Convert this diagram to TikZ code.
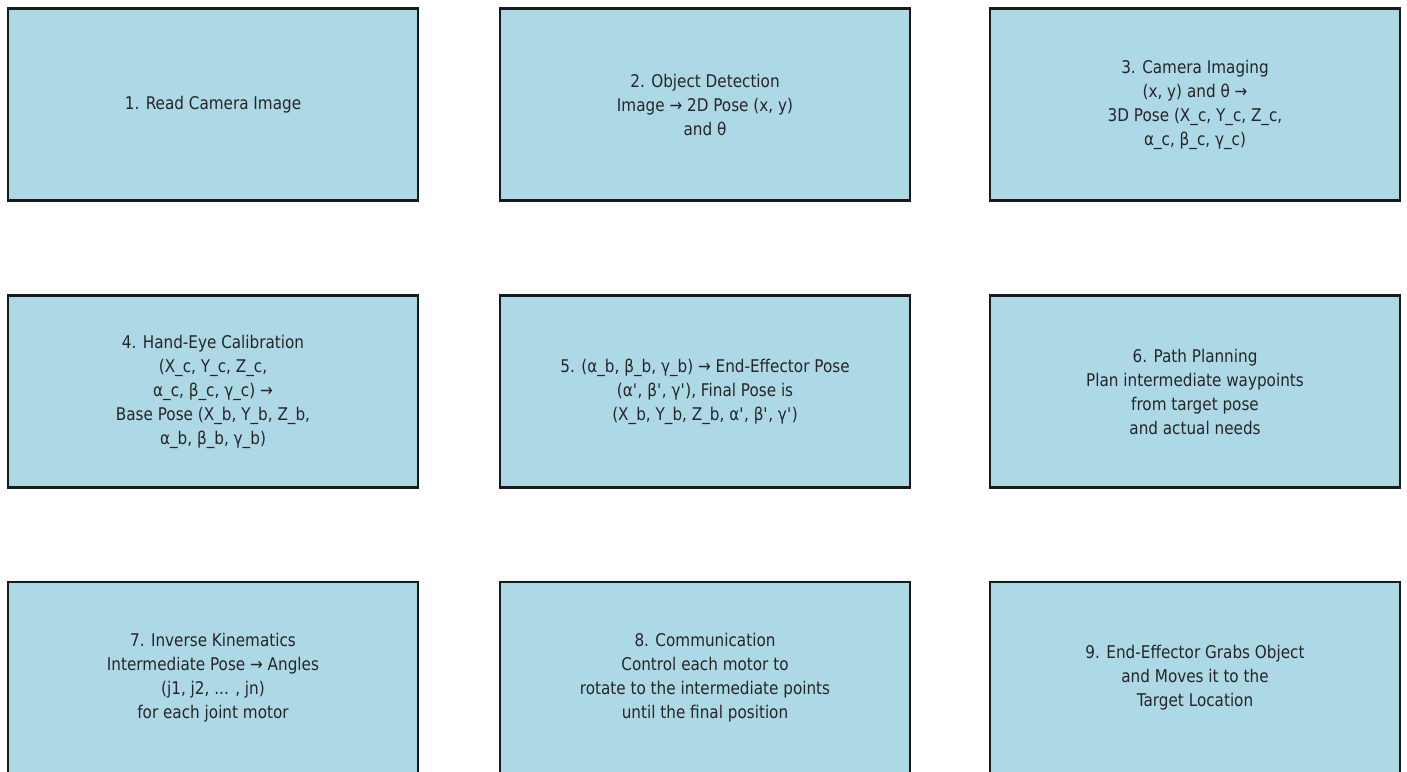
\documentclass[tikz,border=0pt]{standalone}
\usepackage{fontspec}
\setmainfont{DejaVu Sans}[FakeStretch=0.87]
\newcommand{\q}{\textquotesingle}
\begin{document}
\begin{tikzpicture}[x=0.5pt,y=-0.5pt,
  stepbox/.style={draw=black!90, line width=1.1pt, fill={rgb,255:red,173;green,216;blue,230},
    minimum width=205pt, minimum height=96pt, inner sep=0pt, outer sep=0pt,
    align=center, font=\fontsize{8.75pt}{12pt}\selectfont, text=black!85}]
\useasboundingbox (0,0) rectangle (1407,771);
\node[stepbox] (s1) at (213,104.5) {1. Read Camera Image};
\node[stepbox] (s2) at (705,104.5) {2. Object Detection\\Image → 2D Pose (x, y)\\and θ};
\node[stepbox] (s3) at (1195,104.5) {3. Camera Imaging\\(x, y) and θ →\\3D Pose (X\_c, Y\_c, Z\_c,\\α\_c, β\_c, γ\_c)};
\node[stepbox] (s4) at (213,391.5) {4. Hand-Eye Calibration\\(X\_c, Y\_c, Z\_c,\\α\_c, β\_c, γ\_c) →\\Base Pose (X\_b, Y\_b, Z\_b,\\α\_b, β\_b, γ\_b)};
\node[stepbox] (s5) at (705,391.5) {5. (α\_b, β\_b, γ\_b) → End-Effector Pose\\(α\q, β\q, γ\q), Final Pose is\\(X\_b, Y\_b, Z\_b, α\q, β\q, γ\q)};
\node[stepbox] (s6) at (1195,391.5) {6. Path Planning\\Plan intermediate waypoints\\from target pose\\and actual needs};
\node[stepbox] (s7) at (213,678) {7. Inverse Kinematics\\Intermediate Pose → Angles\\(j1, j2, ... , jn)\\for each joint motor};
\node[stepbox] (s8) at (705,678) {8. Communication\\Control each motor to\\rotate to the intermediate points\\until the final position};
\node[stepbox] (s9) at (1195,678) {9. End-Effector Grabs Object\\and Moves it to the\\Target Location};
\end{tikzpicture}
\end{document}
